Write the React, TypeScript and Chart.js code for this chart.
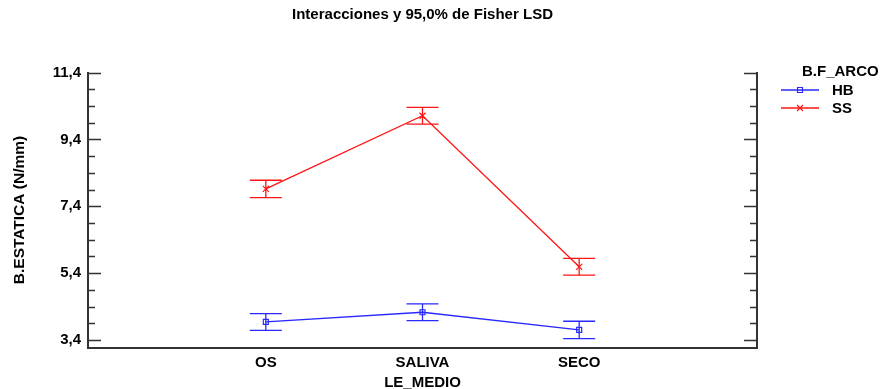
import React, { useEffect, useRef } from 'react';
import { Chart, registerables } from 'chart.js';

Chart.register(...registerables);

// ---- data ----
const chartTitle = 'Interacciones y 95,0% de Fisher LSD';
const xTitle = 'LE_MEDIO';
const yTitle = 'B.ESTATICA (N/mm)';
const legendTitle = 'B.F_ARCO';

const categories = ['OS', 'SALIVA', 'SECO'];
const seriesNames = ['HB', 'SS'];

// means and 95% LSD interval limits per category
const hbMean = [3.94, 4.23, 3.7];
const hbLow = [3.69, 3.98, 3.44];
const hbHigh = [4.19, 4.48, 3.96];

const ssMean = [7.92, 10.11, 5.59];
const ssLow = [7.66, 9.86, 5.34];
const ssHigh = [8.18, 10.36, 5.84];

const yTickValues = [3.4, 5.4, 7.4, 9.4, 11.4];
const yTickLabels = ['3,4', '5,4', '7,4', '9,4', '11,4'];
const yMinorStep = 0.5;

// ---- styles ----
const FONT = '"Liberation Sans", Arial, Helvetica, sans-serif';
const BLUE = 'rgb(40,40,255)';
const RED = 'rgb(255,20,20)';
const AXIS = '#333333';
const CAP_HALF = 16;

function drawMarker(ctx: CanvasRenderingContext2D, style: string, x: number, y: number, color: string) {
  ctx.save();
  ctx.strokeStyle = color;
  ctx.lineWidth = 1.2;
  ctx.beginPath();
  if (style === 'rect') {
    ctx.rect(x - 2.5, y - 2.5, 5, 5);
  } else {
    ctx.moveTo(x - 3, y - 3);
    ctx.lineTo(x + 3, y + 3);
    ctx.moveTo(x - 3, y + 3);
    ctx.lineTo(x + 3, y - 3);
  }
  ctx.stroke();
  ctx.restore();
}

const decorPlugin = {
  id: 'decor',
  beforeDatasetsDraw(chart: any) {
    const { ctx } = chart;
    const xs = chart.scales.x;
    const ys = chart.scales.y;
    chart.data.datasets.forEach((ds: any) => {
      ctx.save();
      ctx.strokeStyle = ds.borderColor;
      ctx.lineWidth = 1.3;
      ds.errLow.forEach((lo: number, i: number) => {
        const hi = ds.errHigh[i];
        const px = xs.getPixelForValue(i);
        const pLo = ys.getPixelForValue(lo);
        const pHi = ys.getPixelForValue(hi);
        ctx.beginPath();
        ctx.moveTo(px, pLo);
        ctx.lineTo(px, pHi);
        ctx.moveTo(px - CAP_HALF, pLo);
        ctx.lineTo(px + CAP_HALF, pLo);
        ctx.moveTo(px - CAP_HALF, pHi);
        ctx.lineTo(px + CAP_HALF, pHi);
        ctx.stroke();
      });
      ctx.restore();
    });
  },
  afterDraw(chart: any) {
    const { ctx, chartArea } = chart;
    const ys = chart.scales.y;
    const { left, right, top, bottom } = chartArea;
    ctx.save();

    // axis frame: left, right and bottom
    ctx.strokeStyle = AXIS;
    ctx.lineWidth = 2;
    ctx.beginPath();
    ctx.moveTo(left, top);
    ctx.lineTo(left, bottom);
    ctx.lineTo(right, bottom);
    ctx.lineTo(right, top);
    ctx.stroke();

    // inward ticks on both vertical axes
    ctx.lineWidth = 1.5;
    ctx.beginPath();
    const first = yTickValues[0];
    const last = yTickValues[yTickValues.length - 1];
    for (let v = first; v <= last + 1e-9; v += yMinorStep) {
      const major = yTickValues.some((t) => Math.abs(t - v) < 1e-6);
      const len = major ? 13 : 7;
      const py = Math.round(ys.getPixelForValue(v)) + 0.5;
      ctx.moveTo(left, py);
      ctx.lineTo(left + len, py);
      ctx.moveTo(right, py);
      ctx.lineTo(right - len, py);
    }
    ctx.stroke();

    // title
    ctx.fillStyle = '#000';
    ctx.font = `bold 15px ${FONT}`;
    ctx.textAlign = 'center';
    ctx.textBaseline = 'middle';
    ctx.fillText(chartTitle, (left + right) / 2, 15);

    // legend
    const lx = right + 24;
    ctx.textAlign = 'left';
    ctx.fillText(legendTitle, lx + 21, 72);
    chart.data.datasets.forEach((ds: any, i: number) => {
      const ly = 90 + i * 18;
      ctx.strokeStyle = ds.borderColor;
      ctx.lineWidth = 1.3;
      ctx.beginPath();
      ctx.moveTo(lx, ly);
      ctx.lineTo(lx + 38, ly);
      ctx.stroke();
      drawMarker(ctx, ds.pointStyle, lx + 19, ly, ds.borderColor);
      ctx.fillStyle = '#000';
      ctx.fillText(ds.label, lx + 51, ly + 1);
    });
    ctx.restore();
  },
};

const markerPlugin = {
  id: 'markers',
  afterDatasetsDraw(chart: any) {
    const { ctx } = chart;
    chart.data.datasets.forEach((ds: any, di: number) => {
      const meta = chart.getDatasetMeta(di);
      meta.data.forEach((pt: any) => drawMarker(ctx, ds.pointStyle, pt.x, pt.y, ds.borderColor));
    });
  },
};

export default function App() {
  const canvasRef = useRef<HTMLCanvasElement | null>(null);

  useEffect(() => {
    const canvas = canvasRef.current;
    if (!canvas) return;

    const chart = new Chart(canvas, {
      type: 'scatter',
      data: {
        datasets: [
          {
            label: seriesNames[0],
            data: hbMean.map((v, i) => ({ x: i, y: v })),
            errLow: hbLow,
            errHigh: hbHigh,
            borderColor: BLUE,
            backgroundColor: BLUE,
            borderWidth: 1.3,
            showLine: true,
            pointRadius: 0,
            pointStyle: 'rect',
          } as any,
          {
            label: seriesNames[1],
            data: ssMean.map((v, i) => ({ x: i, y: v })),
            errLow: ssLow,
            errHigh: ssHigh,
            borderColor: RED,
            backgroundColor: RED,
            borderWidth: 1.3,
            showLine: true,
            pointRadius: 0,
            pointStyle: 'crossRot',
          } as any,
        ],
      },
      options: {
        animation: false,
        responsive: false,
        devicePixelRatio: 1,
        layout: { padding: { left: 0, top: 72, right: 124, bottom: 0 } },
        plugins: {
          legend: { display: false },
          title: { display: false },
          tooltip: { enabled: false },
        },
        scales: {
          x: {
            type: 'linear',
            min: -1.135,
            max: 3.135,
            grid: { display: false, drawTicks: false },
            border: { display: false },
            afterBuildTicks: (scale: any) => {
              scale.ticks = categories.map((_, i) => ({ value: i }));
            },
            afterFit: (scale: any) => {
              scale.height = 41;
            },
            ticks: {
              autoSkip: false,
              padding: 6,
              color: '#000',
              font: { family: FONT, size: 15, weight: 'bold' },
              callback: (value: any) => categories[Math.round(Number(value))] ?? '',
            },
            title: {
              display: true,
              text: xTitle,
              color: '#000',
              font: { family: FONT, size: 15, weight: 'bold', lineHeight: 1 },
              padding: { top: 0, bottom: -1 },
            },
          },
          y: {
            type: 'linear',
            min: 3.16,
            max: 11.42,
            grid: { display: false, drawTicks: false },
            border: { display: false },
            afterBuildTicks: (scale: any) => {
              scale.ticks = yTickValues.map((v) => ({ value: v }));
            },
            afterFit: (scale: any) => {
              scale.width = 88;
            },
            ticks: {
              padding: 7,
              color: '#000',
              font: { family: FONT, size: 15, weight: 'bold' },
              callback: (value: any) => {
                const idx = yTickValues.findIndex((t) => Math.abs(t - Number(value)) < 1e-6);
                return idx >= 0 ? yTickLabels[idx] : '';
              },
            },
            title: {
              display: true,
              text: yTitle,
              color: '#000',
              font: { family: FONT, size: 15.5, weight: 'bold', lineHeight: 1 },
              padding: { top: 11.5, bottom: 0 },
            },
          },
        },
      } as any,
      plugins: [decorPlugin, markerPlugin],
    });

    return () => chart.destroy();
  }, []);

  return (
    <div style={{ position: 'absolute', left: 0, top: 0, width: 881, height: 389, background: '#fff' }}>
      <canvas ref={canvasRef} width={881} height={389} style={{ display: 'block' }} />
    </div>
  );
}
